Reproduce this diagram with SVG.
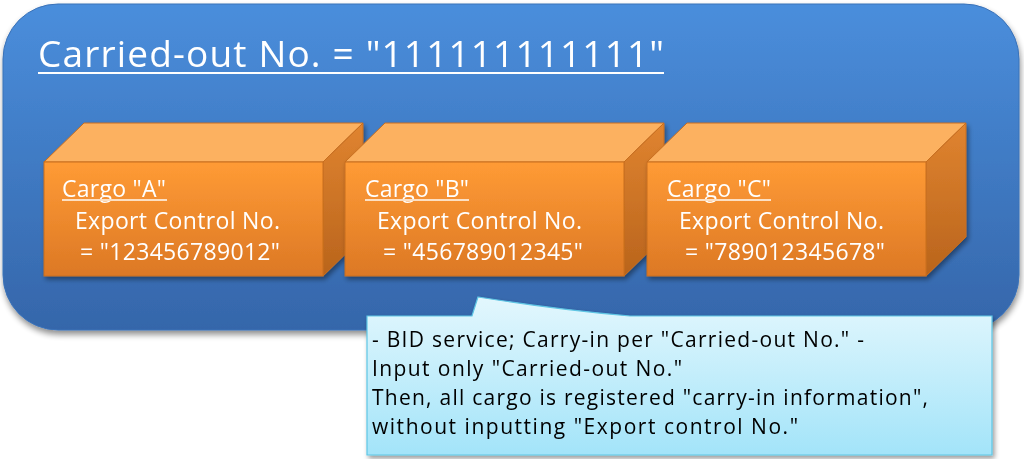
<svg xmlns="http://www.w3.org/2000/svg" width="1024" height="459" viewBox="0 0 1024 459">
<defs>
<linearGradient id="gBlue" x1="0" y1="0" x2="0" y2="1">
<stop offset="0" stop-color="#4A8EDC"/>
<stop offset="1" stop-color="#3566AA"/>
</linearGradient>
<linearGradient id="gFront" x1="0" y1="0" x2="0" y2="1">
<stop offset="0" stop-color="#FF9B35"/>
<stop offset="1" stop-color="#DC7825"/>
</linearGradient>
<linearGradient id="gSide" x1="0" y1="0" x2="0" y2="1">
<stop offset="0" stop-color="#E08430"/>
<stop offset="1" stop-color="#B9641C"/>
</linearGradient>
<linearGradient id="gCall" x1="0" y1="0" x2="0" y2="1">
<stop offset="0" stop-color="#E3F7FD"/>
<stop offset="1" stop-color="#A3E4F9"/>
</linearGradient>
<filter id="sh" x="-10%" y="-10%" width="125%" height="130%">
<feGaussianBlur in="SourceAlpha" stdDeviation="3"/>
<feOffset dx="1" dy="4" result="b"/>
<feComponentTransfer><feFuncA type="linear" slope="0.45"/></feComponentTransfer>
<feMerge><feMergeNode/><feMergeNode in="SourceGraphic"/></feMerge>
</filter>
<filter id="sh2" x="-10%" y="-10%" width="125%" height="130%">
<feGaussianBlur in="SourceAlpha" stdDeviation="2.5"/>
<feOffset dx="2" dy="3" result="b"/>
<feComponentTransfer><feFuncA type="linear" slope="0.4"/></feComponentTransfer>
<feMerge><feMergeNode/><feMergeNode in="SourceGraphic"/></feMerge>
</filter>
</defs>
<style>
.front{fill:url(#gFront);stroke:#C86E1E;stroke-width:1}
.top{fill:#FCB161;stroke:#C86E1E;stroke-width:1}
.side{fill:url(#gSide);stroke:#C86E1E;stroke-width:1}
.wt{font-family:"Open Sans",sans-serif;fill:#FFFFFF}
.ct{font-family:"Open Sans",sans-serif;fill:#000000;font-size:21px}
.ul{stroke:#FFFFFF;stroke-width:2}
.ulc{stroke:#FCE0C4;stroke-width:2}
</style>
<rect width="1024" height="459" fill="#FFFFFF"/>
<g id="container" filter="url(#sh)">
<rect x="3" y="4" width="1016" height="326" rx="55" ry="55" fill="url(#gBlue)" stroke="#3A72B8" stroke-width="1"/>
<text class="wt" x="38" y="67" font-size="37" textLength="626">Carried-out No. = "111111111111"</text>
<line class="ul" x1="38" y1="73" x2="664" y2="73"/>
</g>
<g id="cargoA" filter="url(#sh2)">
<polygon class="top" points="44,162 84,123 363,123 323,162"/>
<polygon class="side" points="323,162 363,123 363,237 323,276"/>
<rect class="front" x="44" y="162" width="279" height="114"/>
<text class="wt" x="62" y="197" font-size="23" textLength="104">Cargo "A"</text>
<line class="ulc" x1="62" y1="200" x2="167" y2="200"/>
<text class="wt" x="75" y="229" font-size="23" textLength="205">Export Control No.</text>
<text class="wt" x="80" y="260" font-size="23" textLength="200">= "123456789012"</text>
</g>
<g id="cargoB" filter="url(#sh2)">
<polygon class="top" points="345,162 385,123 664,123 624,162"/>
<polygon class="side" points="624,162 664,123 664,237 624,276"/>
<rect class="front" x="345" y="162" width="279" height="114"/>
<text class="wt" x="365" y="197" font-size="23" textLength="104">Cargo "B"</text>
<line class="ulc" x1="365" y1="200" x2="469" y2="200"/>
<text class="wt" x="377" y="229" font-size="23" textLength="205">Export Control No.</text>
<text class="wt" x="383" y="260" font-size="23" textLength="200">= "456789012345"</text>
</g>
<g id="cargoC" filter="url(#sh2)">
<polygon class="top" points="647,162 687,123 966,123 926,162"/>
<polygon class="side" points="926,162 966,123 966,237 926,276"/>
<rect class="front" x="647" y="162" width="279" height="114"/>
<text class="wt" x="667" y="197" font-size="23" textLength="104">Cargo "C"</text>
<line class="ulc" x1="667" y1="200" x2="771" y2="200"/>
<text class="wt" x="679" y="229" font-size="23" textLength="205">Export Control No.</text>
<text class="wt" x="685" y="260" font-size="23" textLength="200">= "789012345678"</text>
</g>
<g id="callout" filter="url(#sh2)">
<path d="M367,316 L472,316 L478,297 Q560,310 630,316 L992,316 L992,455 L367,455 Z" fill="url(#gCall)" stroke="#5EC6E4" stroke-width="1.2"/>
<text class="ct" x="372" y="347" textLength="492">- BID service; Carry-in per "Carried-out No." -</text>
<text class="ct" x="372" y="376" textLength="310">Input only "Carried-out No."</text>
<text class="ct" x="372" y="405" textLength="556">Then, all cargo is registered  "carry-in information",</text>
<text class="ct" x="372" y="434" textLength="426">without inputting  "Export control No."</text>
</g>
<g id="connectors"></g>
</svg>
